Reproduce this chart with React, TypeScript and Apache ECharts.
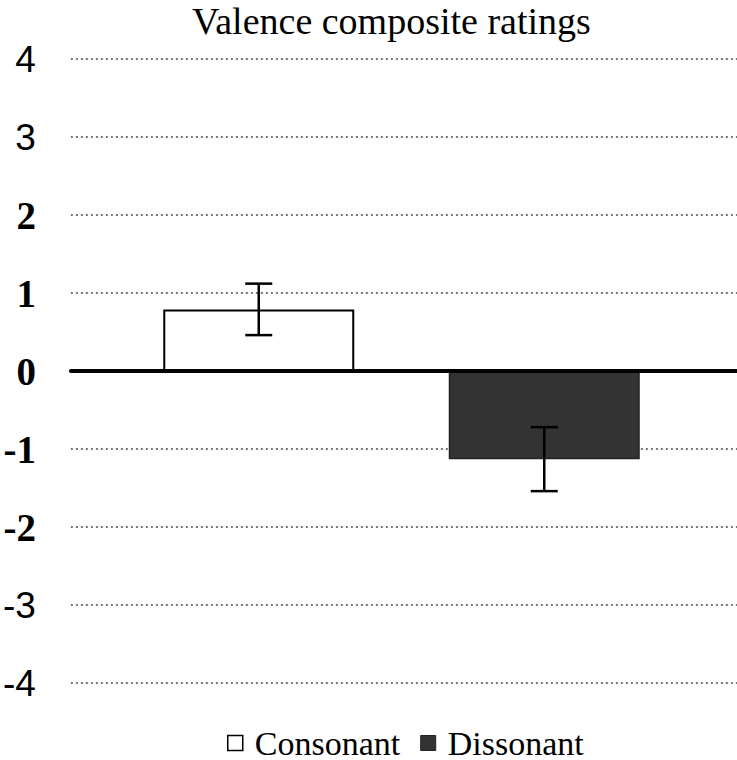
import React, { useEffect, useRef } from "react";
import * as echarts from "echarts";

const categories = ["Consonant", "Dissonant"];
const means = [0.79, -1.13];
const errors = [0.33, 0.41];
const yMin = -4;
const yMax = 4;
const yInterval = 1;
const sansLabels = [4, 3, -3, -4];

const SERIF = "'Liberation Serif', 'Times New Roman', Times, serif";
const SANS = "'Liberation Sans', Arial, Helvetica, sans-serif";

export default function App() {
  const ref = useRef<HTMLDivElement>(null);

  useEffect(() => {
    document.body.style.margin = "0";
    const chart = echarts.init(ref.current!, null, { renderer: "svg" });

    const consonantData = categories.map((c, i) => (i === 0 ? means[i] : null));
    const dissonantData = categories.map((c, i) => (i === 1 ? means[i] : null));
    const errData = categories.map((c, i) => [i, means[i] - errors[i], means[i] + errors[i]]);

    const option: any = {
      animation: false,
      backgroundColor: "#fff",
      textStyle: { fontFamily: SERIF, color: "#000" },
      title: {
        text: "Valence composite ratings",
        left: 187,
        top: -3,
        textStyle: {
          fontFamily: SERIF,
          fontWeight: "normal",
          fontSize: 38,
          color: "#000",
        },
      },
      legend: {
        left: 222,
        top: 721,
        icon: "rect",
        itemWidth: 15,
        itemHeight: 15,
        itemGap: 20,
        textStyle: {
          fontFamily: SERIF,
          fontWeight: "normal",
          fontSize: 34,
          lineHeight: 34,
          color: "#000",
          padding: [0, 0, 0, 7],
        },
        data: [
          { name: "Consonant", itemStyle: { color: "#fff", borderColor: "#000", borderWidth: 1.5 } },
          { name: "Dissonant", itemStyle: { color: "#333", borderColor: "#222", borderWidth: 1 } },
        ],
      },
      grid: [
        { left: 68, right: 0, top: 59, bottom: 77 },
        { left: 116, right: 50, top: 59, bottom: 77 },
      ],
      xAxis: [
        {
          gridIndex: 0,
          type: "value",
          min: 0,
          max: 1,
          z: 5,
          axisLine: { show: true, onZero: true, lineStyle: { color: "#000", width: 4 } },
          axisTick: { show: false },
          axisLabel: { show: false },
          splitLine: { show: false },
        },
        {
          gridIndex: 1,
          type: "category",
          data: categories,
          axisLine: { show: false },
          axisTick: { show: false },
          axisLabel: { show: false },
          splitLine: { show: false },
        },
      ],
      yAxis: [
        {
          gridIndex: 0,
          type: "value",
          min: yMin,
          max: yMax,
          interval: yInterval,
          axisLine: { show: false },
          axisTick: { show: false },
          axisLabel: {
            margin: 35,
            formatter: (v: number) => (sansLabels.includes(v) ? `{s|${v}}` : `{r|${v}}`),
            rich: {
              s: { fontFamily: SANS, fontWeight: "normal", fontSize: 37, color: "#000" },
              r: { fontFamily: SERIF, fontWeight: "bold", fontSize: 39, color: "#000" },
            },
          },
          splitLine: {
            show: true,
            lineStyle: { color: "#777", width: 2, type: [2, 3] },
          },
        },
        {
          gridIndex: 1,
          type: "value",
          min: yMin,
          max: yMax,
          interval: yInterval,
          show: false,
          splitLine: { show: false },
        },
      ],
      series: [
        {
          name: "Consonant",
          type: "bar",
          xAxisIndex: 1,
          yAxisIndex: 1,
          data: consonantData,
          barWidth: 191,
          barGap: "-100%",
          itemStyle: { color: "#fff", borderColor: "#000", borderWidth: 2 },
        },
        {
          name: "Dissonant",
          type: "bar",
          xAxisIndex: 1,
          yAxisIndex: 1,
          data: dissonantData,
          barWidth: 191,
          barGap: "-100%",
          itemStyle: { color: "#333", borderColor: "#222", borderWidth: 1.5 },
        },
        {
          name: "error",
          type: "custom",
          xAxisIndex: 1,
          yAxisIndex: 1,
          z: 6,
          data: errData,
          renderItem: (params: any, api: any) => {
            const x = api.value(0);
            const lo = api.coord([x, api.value(1)]);
            const hi = api.coord([x, api.value(2)]);
            const half = 13.5;
            const style = { stroke: "#000", lineWidth: 2.5 };
            return {
              type: "group",
              children: [
                { type: "line", shape: { x1: lo[0], y1: lo[1], x2: hi[0], y2: hi[1] }, style },
                { type: "line", shape: { x1: lo[0] - half, y1: lo[1], x2: lo[0] + half, y2: lo[1] }, style },
                { type: "line", shape: { x1: hi[0] - half, y1: hi[1], x2: hi[0] + half, y2: hi[1] }, style },
              ],
            };
          },
        },
      ],
    };

    chart.setOption(option);
    return () => chart.dispose();
  }, []);

  return <div ref={ref} style={{ width: 737, height: 760, position: "absolute", left: 0, top: 0 }} />;
}
